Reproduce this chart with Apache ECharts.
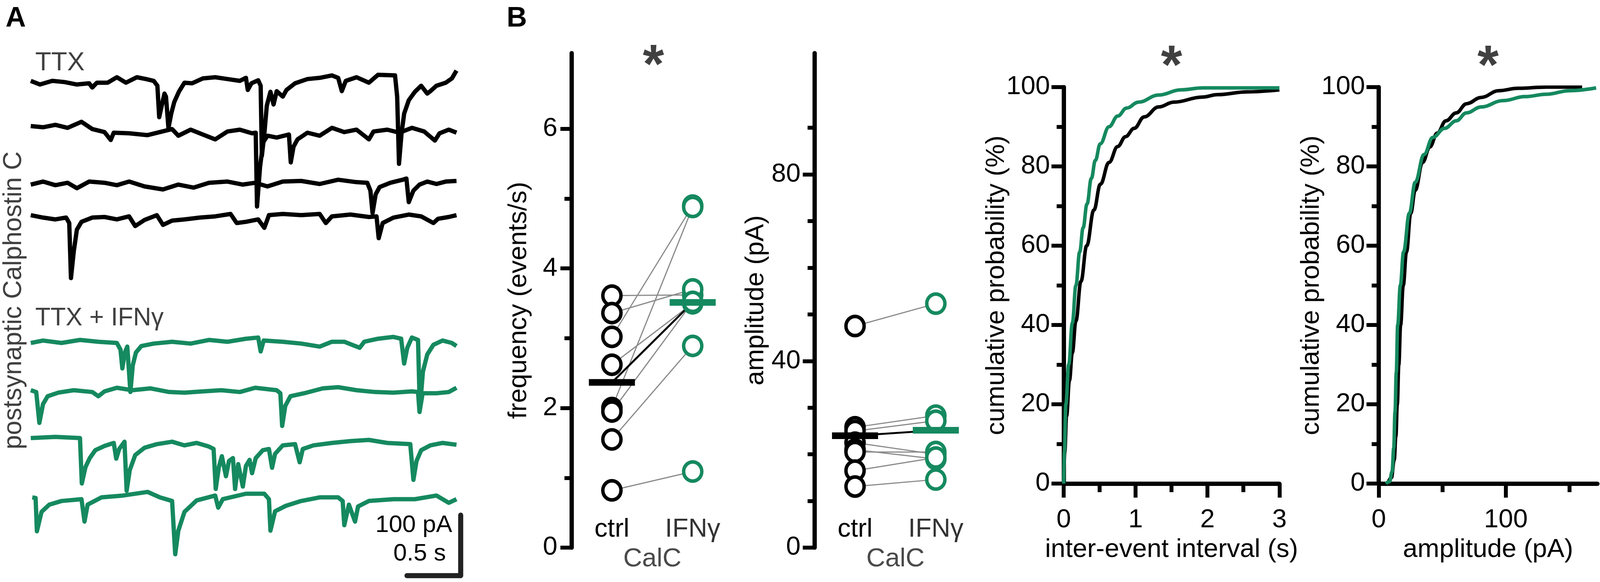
<!DOCTYPE html>
<html>
<head>
<meta charset="utf-8">
<script src="https://cdn.jsdelivr.net/npm/echarts/dist/echarts.min.js"></script>
<style>
  html, body { margin: 0; padding: 0; background: #fff; overflow: hidden; }
  #chart { width: 100%; height: 1490px; }
</style>
</head>
<body>
<div id="chart"></div>
<script>
// ---- data -------------------------------------------------------------

// example sweeps, [time (s), current (pA) relative to baseline]
var ttx1 = [[0,0],[0.086,-6],[0.2,0],[0.315,-2],[0.429,-6],[0.543,-4],[0.572,-11],[0.615,-3],[0.715,-3],[0.801,6],[0.886,-3],[0.987,6],[1.072,3],[1.144,0],[1.178,-8],[1.195,-60],[1.221,-39],[1.244,-21],[1.258,-26],[1.281,-78],[1.307,-54],[1.335,-35],[1.378,-18],[1.43,-3],[1.501,-4],[1.601,4],[1.716,6],[1.83,3],[1.945,0],[2.002,5],[2.019,-15],[2.053,-4],[2.116,1],[2.139,-8],[2.15,-124],[2.173,-88],[2.196,-41],[2.23,-18],[2.259,-39],[2.288,-17],[2.345,-26],[2.379,-15],[2.459,-4],[2.574,3],[2.688,5],[2.802,9],[2.86,5],[2.894,-17],[2.931,0],[3.031,6],[3.146,-3],[3.231,10],[3.389,9],[3.409,-26],[3.426,-137],[3.449,-88],[3.474,-54],[3.517,-32],[3.574,-18],[3.632,-8],[3.689,-21],[3.718,-17],[3.775,-8],[3.861,-3],[3.918,4],[3.961,17]];
var ttx2 = [[0,6],[0.114,4],[0.229,8],[0.343,3],[0.472,13],[0.572,1],[0.686,-4],[0.744,-17],[0.772,-5],[0.915,-6],[1.087,-9],[1.201,-4],[1.315,1],[1.373,-10],[1.487,0],[1.601,-8],[1.716,-16],[1.83,-3],[1.945,0],[2.059,-6],[2.093,-5],[2.105,-127],[2.133,-62],[2.162,-21],[2.202,-10],[2.288,-13],[2.402,-8],[2.419,-54],[2.445,-28],[2.482,-16],[2.574,-5],[2.688,-10],[2.802,3],[2.917,-4],[3.031,0],[3.146,-16],[3.189,-3],[3.317,0],[3.431,-5],[3.546,3],[3.66,-3],[3.76,-18],[3.803,-6],[3.889,0],[3.961,-5]];
var ttx3 = [[0,-1],[0.114,4],[0.229,-2],[0.343,2],[0.429,-7],[0.543,4],[0.686,2],[0.801,-2],[0.915,4],[1.058,-4],[1.23,-9],[1.373,-1],[1.516,-6],[1.658,2],[1.83,4],[1.973,-1],[2.088,2],[2.202,-4],[2.345,4],[2.516,5],[2.688,0],[2.86,7],[3.031,3],[3.131,2],[3.16,-11],[3.18,-48],[3.209,-17],[3.246,-5],[3.346,2],[3.46,7],[3.495,9],[3.517,-30],[3.56,-11],[3.617,-1],[3.689,4],[3.775,0],[3.861,4],[3.961,5]];
var ttx4 = [[0,4],[0.114,0],[0.229,-3],[0.329,0],[0.358,-9],[0.374,-100],[0.4,-56],[0.429,-20],[0.472,-7],[0.572,0],[0.686,1],[0.801,-3],[0.915,2],[0.972,-14],[1.058,-4],[1.173,4],[1.23,-12],[1.315,-5],[1.43,-3],[1.573,0],[1.716,2],[1.859,6],[1.916,-9],[2.002,-7],[2.116,-3],[2.173,-17],[2.216,4],[2.345,6],[2.516,4],[2.688,6],[2.745,-9],[2.802,2],[2.974,5],[3.146,1],[3.217,2],[3.237,-34],[3.274,-9],[3.374,0],[3.517,5],[3.632,2],[3.746,-9],[3.789,-2],[3.889,1],[3.961,4]];

var ifn1 = [[0,-2],[0.114,2],[0.286,-2],[0.458,3],[0.629,0],[0.801,-2],[0.835,-13],[0.852,-44],[0.875,-18],[0.898,-8],[0.927,-83],[0.949,-39],[0.978,-18],[1.029,-7],[1.144,-3],[1.315,0],[1.487,-3],[1.658,3],[1.83,0],[2.002,5],[2.116,7],[2.139,-16],[2.167,2],[2.345,0],[2.516,-3],[2.688,-8],[2.802,0],[2.917,0],[3.06,-10],[3.103,0],[3.231,5],[3.374,8],[3.446,5],[3.474,-36],[3.503,-10],[3.546,7],[3.603,3],[3.62,-111],[3.649,-49],[3.689,-21],[3.746,-5],[3.832,2],[3.918,-2],[3.961,-7]];
var ifn2 = [[0,0],[0.051,-3],[0.08,-54],[0.114,-23],[0.157,-10],[0.257,-4],[0.4,0],[0.572,-3],[0.629,-10],[0.686,-2],[0.801,4],[0.944,0],[1.115,3],[1.287,-3],[1.43,-4],[1.601,-2],[1.773,0],[1.945,-3],[2.088,4],[2.288,0],[2.322,-5],[2.339,-59],[2.368,-26],[2.416,-10],[2.545,-5],[2.717,3],[2.86,5],[3.031,0],[3.203,-3],[3.374,-4],[3.546,-2],[3.603,-3],[3.617,-36],[3.646,-5],[3.775,-5],[3.889,-3],[3.961,4]];
var ifn3 = [[0,8],[0.229,10],[0.458,8],[0.475,-67],[0.509,-40],[0.549,-25],[0.601,-12],[0.686,-5],[0.772,0],[0.795,-26],[0.823,-10],[0.872,2],[0.892,-79],[0.921,-45],[0.972,-20],[1.058,-8],[1.173,-2],[1.315,2],[1.43,-4],[1.544,0],[1.658,-6],[1.701,-10],[1.721,-76],[1.75,-40],[1.778,-22],[1.816,-55],[1.844,-30],[1.881,-25],[1.901,-76],[1.93,-35],[1.973,-72],[2.002,-38],[2.036,-28],[2.059,-50],[2.093,-25],[2.159,-12],[2.216,-10],[2.245,-41],[2.273,-18],[2.345,-4],[2.459,-2],[2.502,-32],[2.531,-10],[2.631,-4],[2.802,0],[2.974,3],[3.146,5],[3.317,0],[3.531,-2],[3.56,-61],[3.589,-30],[3.632,-12],[3.718,-4],[3.832,0],[3.961,-3]];
var ifn4 = [[0.014,3],[0.045,2],[0.057,-53],[0.1,-21],[0.172,-9],[0.286,-3],[0.472,0],[0.5,-37],[0.529,-9],[0.658,3],[0.858,6],[1.087,12],[1.201,3],[1.315,-3],[1.344,-91],[1.373,-52],[1.43,-21],[1.544,-2],[1.716,6],[1.744,-14],[1.787,0],[2.002,9],[2.173,9],[2.216,0],[2.23,-52],[2.273,-20],[2.373,-11],[2.516,-3],[2.688,3],[2.86,3],[2.902,-3],[2.917,-43],[2.96,-9],[3.017,-37],[3.045,-12],[3.146,-3],[3.374,0],[3.574,0],[3.775,6],[3.889,-6],[3.961,0]];

var scaleBarTime = 0.5;     // s
var scaleBarCurrent = 100;  // pA

// paired cells, ctrl vs IFNγ (same index = same pair)
var categories = ['ctrl', 'IFNγ'];
var freqCtrl = [3.61, 3.36, 3.02, 2.62, 2.00, 1.95, 1.55, 0.82];
var freqIfn  = [3.62, 3.70, 4.90, 3.50, 4.88, 3.52, 2.89, 1.09];
var ampCtrl  = [47.5, 25.8, 25.0, 22.5, 21.0, 20.5, 16.5, 13.1];
var ampIfn   = [52.3, 28.3, 27.2, 20.0, 19.0, 20.5, 19.3, 14.6];

// cumulative distributions, [value, %]
var ieiCtrlCdf = [[0,0],[0.015,8],[0.04,17],[0.08,26],[0.12,33],[0.17,41],[0.24,51],[0.32,60],[0.42,69],[0.51,75.5],[0.63,81],[0.75,85],[0.86,87.5],[0.98,89.6],[1.12,92.5],[1.32,95],[1.53,96.2],[1.93,97.5],[2.14,98.1],[2.55,98.8],[3.0,99.3]];
var ieiIfnCdf  = [[0,0],[0.01,8],[0.03,20],[0.07,30],[0.12,40.5],[0.17,50],[0.222,58.4],[0.27,64.5],[0.324,70.5],[0.385,77],[0.44,81.5],[0.508,85.7],[0.63,90],[0.752,92.7],[0.874,94.7],[1.04,96.2],[1.32,98],[1.63,99.3],[1.93,99.8],[3.0,99.8]];
var ampCtrlCdf = [[7,0],[10,1.5],[12.2,6],[13.5,12],[14.6,20],[15.8,30],[17.2,40],[19.3,50],[21.8,58.4],[25.2,68.2],[28.7,74],[34.5,81],[40.2,84.9],[46,88.4],[52.9,91.5],[61,93.5],[69,95.8],[80.6,97.4],[94.4,99.1],[109.4,99.7],[132,100],[160,100]];
var ampIfnCdf  = [[5.6,0],[8.5,0.5],[10.5,3],[11.8,9],[12.8,18],[13.8,28],[14.9,40],[17,50],[19.5,58.4],[24.1,68.2],[28.7,76],[35.6,83],[42.5,87.3],[51.8,89.6],[61,91.5],[69,93.5],[80.6,95],[97.9,96.6],[115,97.6],[132,98.2],[150,99.1],[171,99.8]];

// ---- layout -------------------------------------------------------------

var GREEN = '#15895f';
var GREY_TXT = '#404040';
var FONT = '"Liberation Sans", Arial, Helvetica, sans-serif';
var FS = 67;
var AXW = 11, TKW = 10;

// the figure is laid out on a 4317 px wide sheet; squeeze horizontally
// if the window is narrower than that
var SX = Math.min(1, (document.documentElement.clientWidth || 4317) / 4317);
function px(v) { return v * SX; }

// vertical placement of the sweeps (pA in the trace grid)
var ttxOffsets = [-36.8, -117.4, -207.1, -262.6];
var ifnOffsets = [-467.7, -547.7, -634.8, -727.7];
var scaleBarBase = -854;

var chart = echarts.init(document.getElementById('chart'));

var grids = [], xAxes = [], yAxes = [], series = [];
function addGrid(r) {
  r.left = px(r.left);
  r.width = px(r.width);
  r.containLabel = false;
  r.outerBoundsMode = 'none';
  grids.push(r);
  return grids.length - 1;
}
function addX(o) { xAxes.push(o); return xAxes.length - 1; }
function addY(o) { yAxes.push(o); return yAxes.length - 1; }

function mean(a) {
  var s = 0;
  for (var i = 0; i < a.length; i++) s += a[i];
  return s / a.length;
}

var axLine = { show: true, lineStyle: { color: '#000', width: AXW } };
function tick(len) { return { show: true, length: len, lineStyle: { color: '#000', width: TKW } }; }
var noSplit = { show: false };
var nameStyle = { fontSize: FS, fontFamily: FONT, color: '#000' };

// --- panel A: sweeps ---
var gA = addGrid({ left: 83, top: 150, width: 1189, height: 1340 });
var xA = addX({ gridIndex: gA, type: 'value', min: 0, max: 4.1, show: false });
var yA = addY({ gridIndex: gA, type: 'value', min: -864.5, max: 0, show: false });

function traceSeries(trace, offset, color) {
  return {
    type: 'line', xAxisIndex: xA, yAxisIndex: yA, silent: true,
    symbol: 'none', showSymbol: false,
    lineStyle: { color: color, width: 11, join: 'round' },
    data: trace.map(function (p) { return [p[0], p[1] + offset]; })
  };
}
[ttx1, ttx2, ttx3, ttx4].forEach(function (t, i) { series.push(traceSeries(t, ttxOffsets[i], '#000')); });
[ifn1, ifn2, ifn3, ifn4].forEach(function (t, i) { series.push(traceSeries(t, ifnOffsets[i], GREEN)); });

var sbEnd = 4.0;
series.push({
  type: 'line', xAxisIndex: xA, yAxisIndex: yA, silent: true, symbol: 'none',
  lineStyle: { color: '#222', width: 13, cap: 'round', join: 'round' },
  data: [[sbEnd - scaleBarTime, scaleBarBase], [sbEnd, scaleBarBase], [sbEnd, scaleBarBase + scaleBarCurrent]]
});

// --- paired scatter panels ---
function pairedPanel(left, ctrl, ifn, yMax, yName, nameGap, ticks) {
  var y0 = 1402, top = 136, h = y0 - top;
  var ppu = h / yMax;
  var g = addGrid({ left: left, top: top, width: 436, height: h });
  var xv = addX({ gridIndex: g, type: 'value', min: 0.5, max: 2.5, show: false, position: 'top' });
  addX({
    gridIndex: g, type: 'category', data: categories, position: 'bottom',
    axisLine: { show: false }, axisTick: { show: false }, splitLine: noSplit,
    axisLabel: {
      interval: 0, margin: -80, fontSize: FS, fontFamily: FONT,
      color: function (v, i) { return i === 0 ? '#000' : '#333'; }
    },
    name: 'CalC', nameLocation: 'middle', nameGap: -4, nameMoveOverlap: false,
    nameTextStyle: { fontSize: FS, fontFamily: FONT, color: '#4a4a4a' }
  });
  var yv = addY({
    gridIndex: g, type: 'value', min: 0, max: yMax,
    axisLine: axLine, axisTick: { show: false }, axisLabel: { show: false }, splitLine: noSplit,
    name: yName, nameLocation: 'middle', nameGap: px(nameGap), nameMoveOverlap: false,
    nameTextStyle: nameStyle
  });
  // tick scales (separate grids so no tick sits at the axis top)
  ticks.forEach(function (t) {
    var gt = addGrid({ left: left, top: y0 - t.max * ppu, width: 436, height: t.max * ppu });
    addX({ gridIndex: gt, type: 'value', show: false });
    addY({
      gridIndex: gt, type: 'value', min: 0, max: t.max, interval: t.interval,
      axisLine: { show: false }, axisTick: tick(px(t.len)), splitLine: noSplit,
      minorTick: t.minor ? { show: true, splitNumber: t.minor, length: px(19), lineStyle: { color: '#000', width: TKW } } : { show: false },
      axisLabel: t.labels ? { margin: px(38), fontSize: FS, fontFamily: FONT, color: '#000' } : { show: false }
    });
  });

  var base = { xAxisIndex: xv, yAxisIndex: yv, silent: true, symbol: 'none' };
  for (var i = 0; i < ctrl.length; i++) {
    series.push(Object.assign({ type: 'line', z: 1, lineStyle: { color: '#8a8a8a', width: 3 },
      data: [[1, ctrl[i]], [2, ifn[i]]] }, base));
  }
  var mC = mean(ctrl), mI = mean(ifn);
  series.push(Object.assign({ type: 'line', z: 2, lineStyle: { color: '#000', width: 5 },
    data: [[1, mC], [2, mI]] }, base));
  var dot = [px(49), 49];
  series.push({ type: 'scatter', xAxisIndex: xv, yAxisIndex: yv, silent: true, z: 3,
    symbol: 'circle', symbolSize: dot,
    itemStyle: { color: '#fff', borderColor: '#000', borderWidth: 9, opacity: 1 },
    data: ctrl.map(function (v) { return [1, v]; }) });
  series.push({ type: 'scatter', xAxisIndex: xv, yAxisIndex: yv, silent: true, z: 3,
    symbol: 'circle', symbolSize: dot,
    itemStyle: { color: '#fff', borderColor: GREEN, borderWidth: 9, opacity: 1 },
    data: ifn.map(function (v) { return [2, v]; }) });
  var hw = 0.285;
  series.push(Object.assign({ type: 'line', z: 4, lineStyle: { color: '#000', width: 17 },
    data: [[1 - hw, mC], [1 + hw, mC]] }, base));
  series.push(Object.assign({ type: 'line', z: 4, lineStyle: { color: GREEN, width: 17 },
    data: [[2 - hw, mI], [2 + hw, mI]] }, base));
}

pairedPanel(1542, freqCtrl, freqIfn, 7.084, 'frequency (events/s)', 106,
  [{ max: 6, interval: 2, len: 30, minor: 2, labels: true }]);
pairedPanel(2198, ampCtrl, ampIfn, 106.0, 'amplitude (pA)', 123,
  [{ max: 90, interval: 10, len: 19 }, { max: 80, interval: 40, len: 32, labels: true }]);

// --- cumulative panels ---
var cdfTop = 223, cdfH = 1015;
function cdfY(g) {
  return addY({
    gridIndex: g, type: 'value', min: 0, max: 100, interval: 20,
    axisLine: axLine, axisTick: tick(px(33)), splitLine: noSplit,
    minorTick: { show: true, splitNumber: 2, length: px(19), lineStyle: { color: '#000', width: TKW } },
    axisLabel: { margin: px(37), fontSize: FS, fontFamily: FONT, color: '#000' },
    name: 'cumulative probability (%)', nameLocation: 'middle', nameGap: px(146), nameMoveOverlap: false,
    nameTextStyle: nameStyle
  });
}
function cdfSeries(xi, yi, data, color, z) {
  return { type: 'line', xAxisIndex: xi, yAxisIndex: yi, silent: true, z: z,
    symbol: 'none', smooth: 0.4, smoothMonotone: 'x',
    lineStyle: { color: color, width: 9, join: 'round' }, data: data };
}

// inter-event interval
var gI = addGrid({ left: 2870, top: cdfTop, width: 582, height: cdfH });
var xI = addX({
  gridIndex: gI, type: 'value', min: 0, max: 3, interval: 1,
  axisLine: axLine, axisTick: tick(36), splitLine: noSplit,
  minorTick: { show: true, splitNumber: 2, length: 22, lineStyle: { color: '#000', width: TKW } },
  axisLabel: { margin: 60, fontSize: FS, fontFamily: FONT, color: '#000' },
  name: 'inter-event interval (s)', nameLocation: 'middle', nameGap: 136, nameMoveOverlap: false,
  nameTextStyle: nameStyle
});
var yI = cdfY(gI);
series.push(cdfSeries(xI, yI, ieiCtrlCdf, '#000', 2));
series.push(cdfSeries(xI, yI, ieiIfnCdf, GREEN, 3));

// amplitude
var ampPx = 3.43, ampMax = 172;
var gP = addGrid({ left: 3720, top: cdfTop, width: ampMax * ampPx, height: cdfH });
var xP = addX({
  gridIndex: gP, type: 'value', min: 0, max: ampMax,
  axisLine: axLine, axisTick: { show: false }, axisLabel: { show: false }, splitLine: noSplit,
  name: 'amplitude (pA)', nameLocation: 'middle', nameGap: 136, nameMoveOverlap: false,
  nameTextStyle: nameStyle
});
var yP = cdfY(gP);
series.push(cdfSeries(xP, yP, ampCtrlCdf, '#000', 2));
series.push(cdfSeries(xP, yP, ampIfnCdf, GREEN, 3));
[{ max: 150, interval: 50, len: 22 }, { max: 100, interval: 100, len: 36, labels: true }].forEach(function (t) {
  var gt = addGrid({ left: 3720, top: cdfTop, width: t.max * ampPx, height: cdfH });
  addX({
    gridIndex: gt, type: 'value', min: 0, max: t.max, interval: t.interval,
    axisLine: { show: false }, axisTick: tick(t.len), splitLine: noSplit,
    axisLabel: t.labels ? { margin: 60, fontSize: FS, fontFamily: FONT, color: '#000' } : { show: false }
  });
  addY({ gridIndex: gt, type: 'value', show: false });
});

// ---- text ---------------------------------------------------------------
function txt(x, y, s, o) {
  o = o || {};
  return {
    type: 'text', x: px(x), y: y, rotation: o.rot || 0, silent: true,
    style: {
      text: s, fill: o.color || '#000', align: o.align || 'left', verticalAlign: 'middle',
      font: (o.bold ? 'bold ' : '') + (o.size || FS) + 'px ' + FONT
    }
  };
}

var graphics = [
  txt(15, 48, 'A', { bold: true, size: 72 }),
  txt(1367, 48, 'B', { bold: true, size: 72 }),
  txt(95, 162, 'TTX', { color: GREY_TXT }),
  txt(95, 815, 'TTX + IFNγ', { color: GREY_TXT, size: 64 }),
  txt(38, 769, 'postsynaptic Calphostin C', { color: GREY_TXT, rot: Math.PI / 2, align: 'center', size: 66 }),
  txt(1220, 1345, '100 pA', { align: 'right', size: 62 }),
  txt(1203, 1418, '0.5 s', { align: 'right', size: 62 }),
  txt(1763, 172, '*', { bold: true, size: 140, color: GREY_TXT, align: 'center' }),
  txt(3161, 174, '*', { bold: true, size: 140, color: GREY_TXT, align: 'center' }),
  txt(4015, 174, '*', { bold: true, size: 140, color: GREY_TXT, align: 'center' })
];

chart.setOption({
  animation: false,
  backgroundColor: '#fff',
  grid: grids,
  xAxis: xAxes,
  yAxis: yAxes,
  series: series,
  graphic: graphics
});
</script>
</body>
</html>
